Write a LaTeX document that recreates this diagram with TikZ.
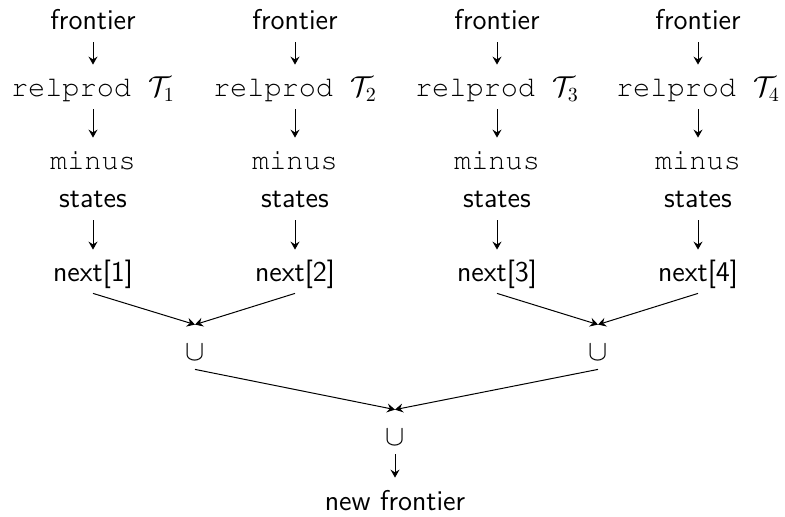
\documentclass[tikz,border=0pt]{standalone}
\usepackage[T1,TU]{fontenc}
\usetikzlibrary{arrows.meta}
% Courier for the operation names
\newcommand\opfont{\fontencoding{T1}\fontfamily{pcr}\selectfont}
\begin{document}
\begin{tikzpicture}[x=0.5pt,y=-0.5pt,
  font=\sffamily\fontsize{14.3}{17}\selectfont,
  lbl/.style={inner sep=0pt, text height=10pt, text depth=2pt, anchor=base},
  nextnode/.style={lbl, text depth=5.5pt},
  cupnode/.style={inner sep=0pt, text height=17.5pt, text depth=4.5pt, anchor=base},
  tip/.style={-{Stealth[length=4pt,width=4.5pt,inset=1.4pt]}, line width=0.5pt},
  flow/.style={tip, shorten <=4pt, shorten >=6pt},
  merge/.style={tip}]
\useasboundingbox (0,0) rectangle (785,517);

% four parallel image computations
\foreach \i/\x in {1/93,2/295,3/497,4/698}{
  \node[lbl] (f\i) at (\x,30)  {frontier};
  \node[lbl] (r\i) at (\x,97)  {{\opfont relprod }$\mathcal{T}_{\i}$};
  \node[lbl] (m\i) at (\x,170) {\opfont minus};
  \node[lbl] (s\i) at (\x,208) {states};
  \node[nextnode] (n\i) at (\x,282) {next[\i]};
  \draw[flow] (f\i) -- (r\i);
  \draw[flow] (r\i) -- (m\i);
  \draw[flow] (s\i) -- (n\i);
}

% pairwise unions
\node[cupnode] (u12) at (195,360) {$\cup$};
\node[cupnode] (u34) at (598,360) {$\cup$};
\node[cupnode] (u)   at (395,445) {$\cup$};
\node[lbl] (nf) at (395,510) {new frontier};

\draw[merge] (n1.south) -- (u12.north);
\draw[merge] (n2.south) -- (u12.north);
\draw[merge] (n3.south) -- (u34.north);
\draw[merge] (n4.south) -- (u34.north);
\draw[merge] (u12.south) -- (u.north);
\draw[merge] (u34.south) -- (u.north);
\draw[flow,shorten <=0pt] (u) -- (nf);
\end{tikzpicture}
\end{document}
